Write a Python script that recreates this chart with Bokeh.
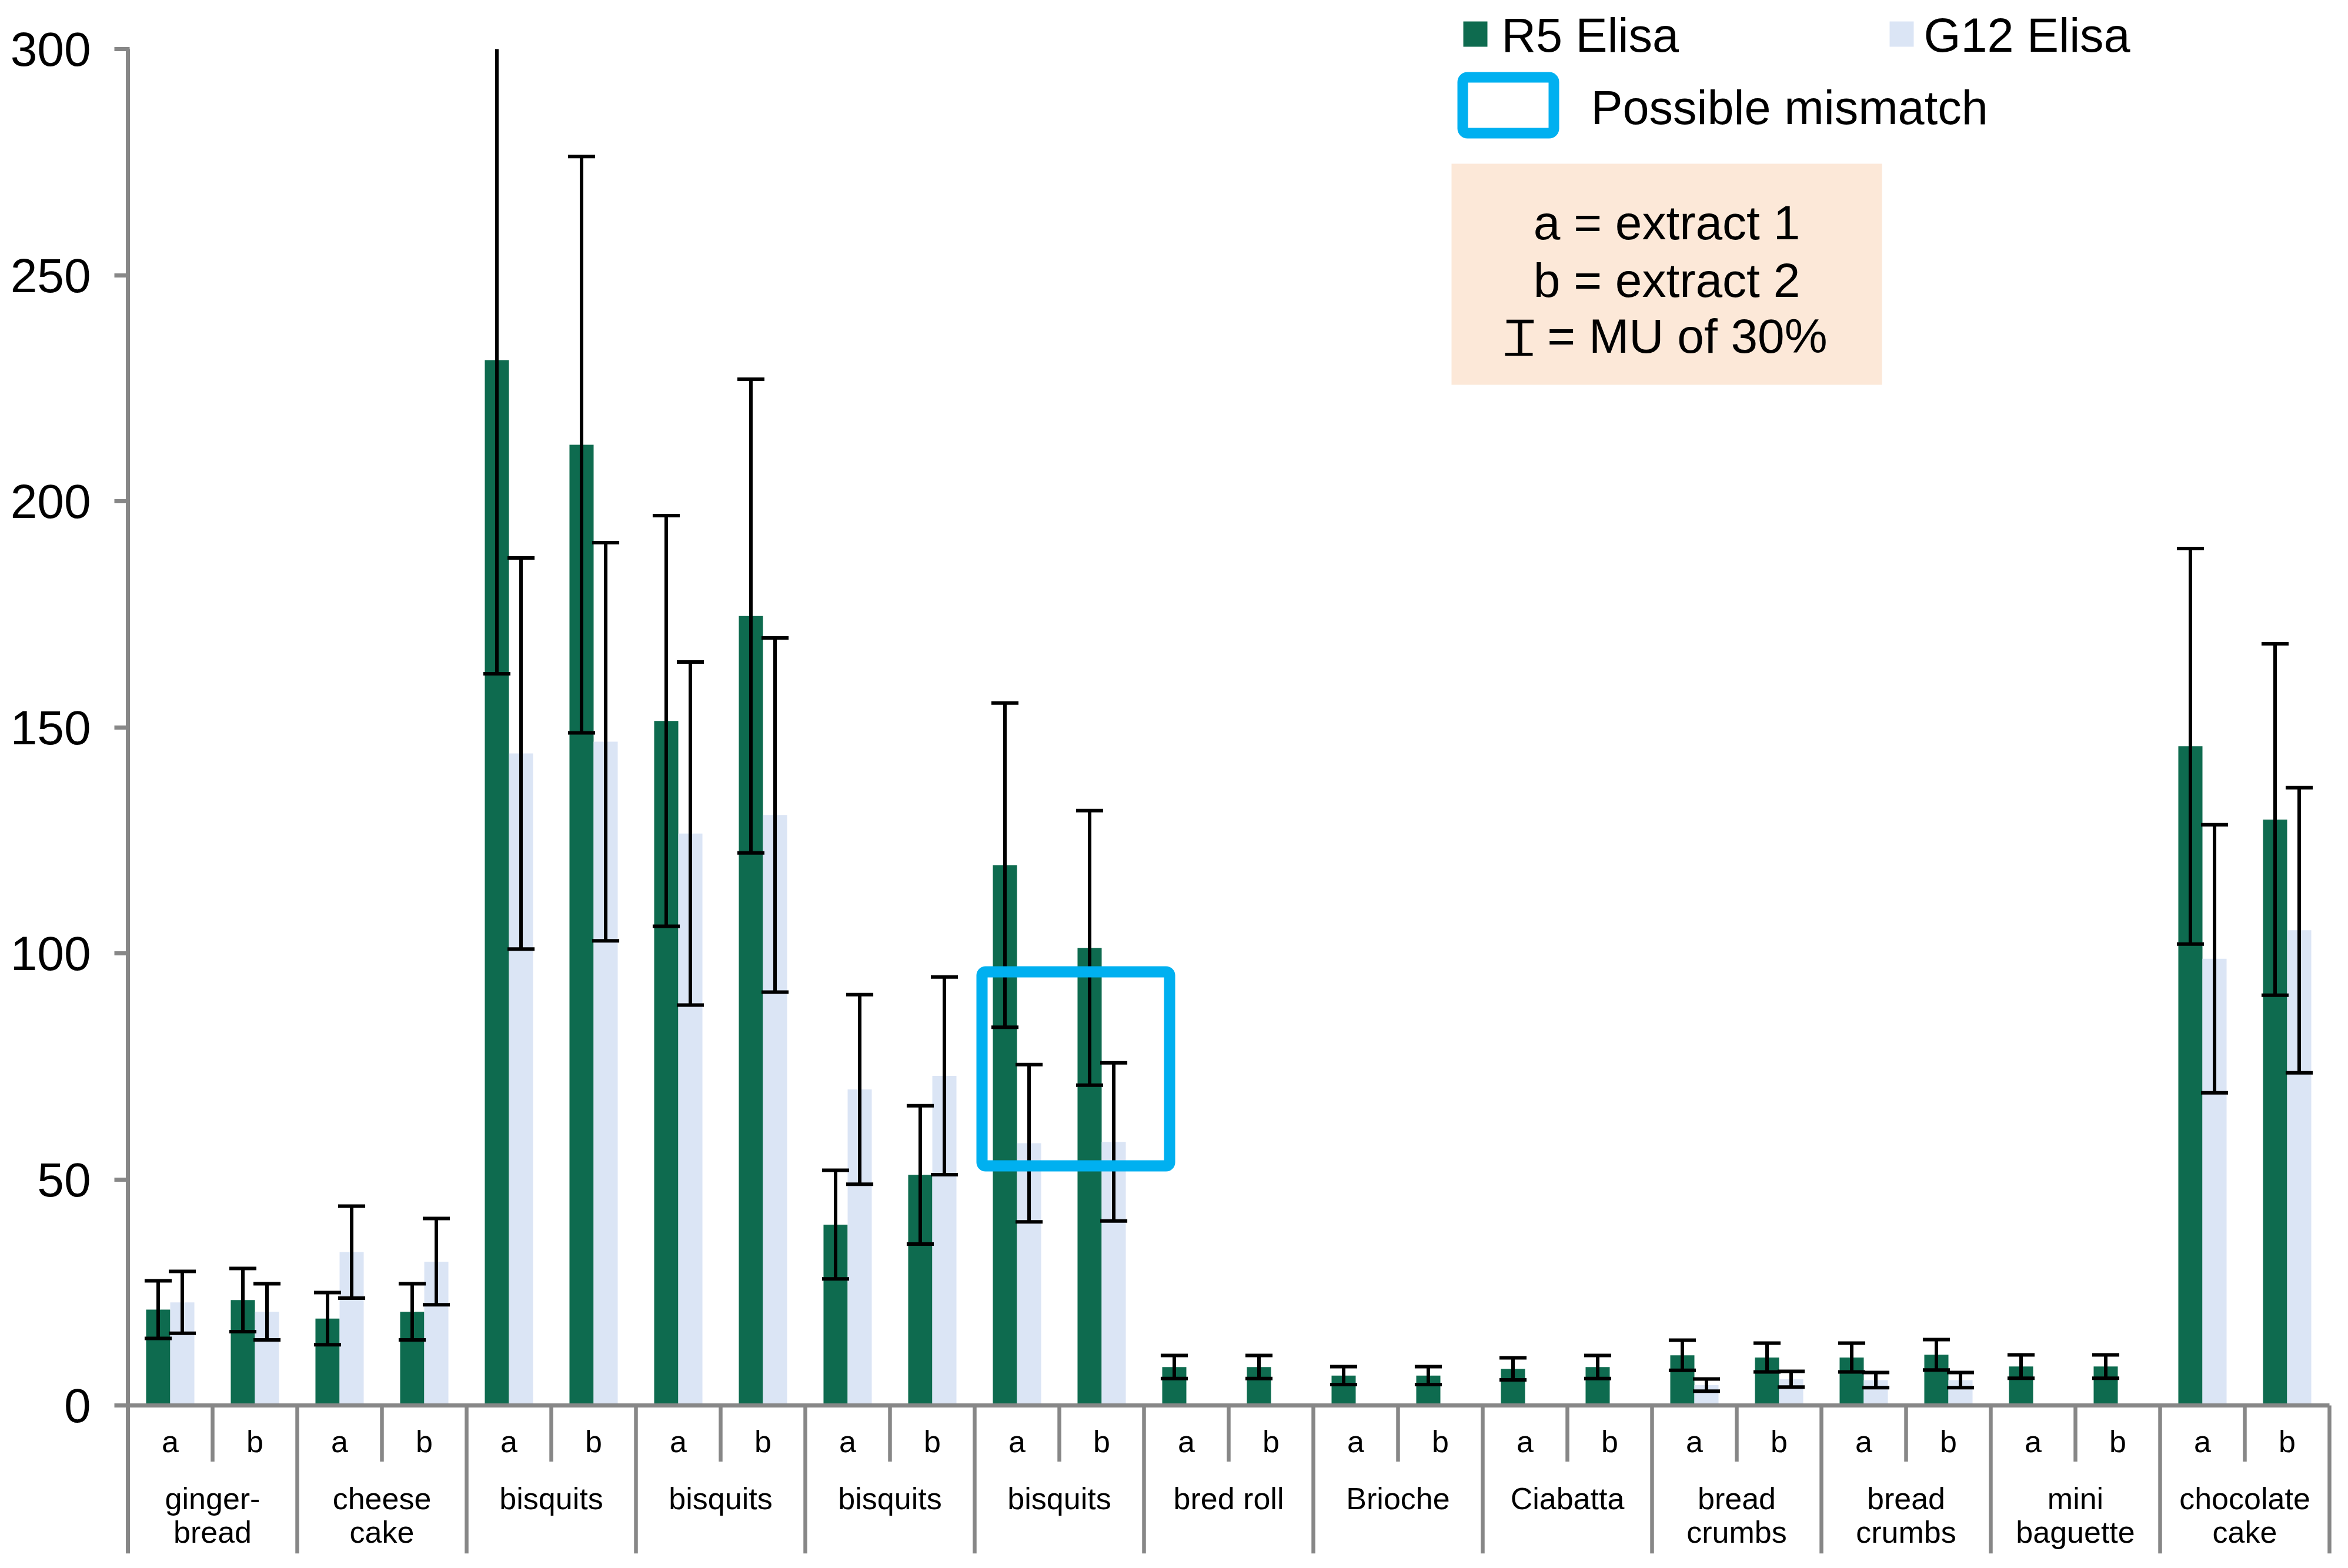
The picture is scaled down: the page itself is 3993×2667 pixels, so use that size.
import numpy as np
from bokeh.plotting import figure
from bokeh.models import Range1d, FixedTicker, BoxAnnotation
from bokeh.core.properties import value
from bokeh.embed import file_html
from bokeh.resources import INLINE

# ---------------- data ----------------
groups = ["ginger-\nbread", "cheese\ncake", "bisquits", "bisquits", "bisquits", "bisquits",
          "bred roll", "Brioche", "Ciabatta", "bread\ncrumbs", "bread\ncrumbs",
          "mini\nbaguette", "chocolate\ncake"]
extracts = ["a", "b"]
r5_elisa = [21.2, 23.3, 19.2, 20.7, 231.2, 212.5, 151.4, 174.6, 40.0, 51.0, 119.5, 101.2,
            8.5, 8.5, 6.6, 6.6, 8.1, 8.5, 11.1, 10.6, 10.6, 11.2, 8.6, 8.6, 145.8, 129.6]
g12_elisa = [22.8, 20.7, 33.9, 31.8, 144.2, 146.8, 126.5, 130.6, 69.9, 72.9, 58.0, 58.3,
             0, 0, 0, 0, 0, 0, 4.5, 5.8, 5.6, 5.6, 0, 0, 98.8, 105.1]
y_ticks = [0, 50, 100, 150, 200, 250, 300]
y_max = 300
mu = 0.30
series_names = ["R5 Elisa", "G12 Elisa"]
mismatch_label = "Possible mismatch"
note_lines = ["a = extract 1", "b = extract 2", "T = MU of 30%"]

# ---------------- style ----------------
FONT = "Liberation Sans"
GREEN = "#0E6B4F"
BLUE = "#DBE5F5"
CYAN = "#00B0F0"
GRAY = "#878787"
PEACH = "#FCE8D8"

W, H = 3977, 2651
# reference-pixel geometry helpers
X0_PX, CAT_PX, Y0_PX, UNIT_PX = 225.0, 144.0, 2394.0, 7.69
PAGE_X, PAGE_Y = 8, 4
def X(px):
    return (px - X0_PX) / CAT_PX
def Y(px):
    return (Y0_PX - px) / UNIT_PX
def TY(px, fs):
    # baseline position for a text of font size fs (renderer places it lower)
    return Y(px - 0.22 * fs - 4)

left_border = 203
top_border = 8 - PAGE_Y
frame_bottom_ref = 2646
bottom_border = H - (frame_bottom_ref - PAGE_Y)
x_start, x_end = X(PAGE_X + left_border), X(PAGE_X + W)
y_start, y_end = Y(frame_bottom_ref), Y(8)

p = figure(width=W, height=H, output_backend="svg", toolbar_location=None,
           x_range=Range1d(x_start, x_end), y_range=Range1d(y_start, y_end),
           x_axis_location=None, y_axis_location="left",
           min_border_left=left_border, min_border_right=0,
           min_border_top=top_border, min_border_bottom=bottom_border)
p.outline_line_color = None
p.grid.visible = False
p.background_fill_color = "white"
p.border_fill_color = "white"

yax = p.yaxis[0]
yax.ticker = FixedTicker(ticks=y_ticks)
yax.axis_line_color = None
yax.major_tick_line_color = GRAY
yax.major_tick_line_width = 7
yax.major_tick_out = 9
yax.major_tick_in = 17
yax.minor_tick_line_color = None
yax.major_label_standoff = 40
yax.major_label_text_font = FONT
yax.major_label_text_font_size = "82px"
yax.major_label_text_color = "black"

n = len(r5_elisa)
cx = np.arange(n) + 0.5
bw = 0.285

# note box background
p.quad(left=[X(2476)], right=[X(3208)], top=[Y(282)], bottom=[Y(658)],
       fill_color=PEACH, line_color=None)

# bars
p.vbar(x=cx - bw / 2, top=r5_elisa, bottom=0, width=bw, fill_color=GREEN, line_color=None)
p.vbar(x=cx + bw / 2, top=g12_elisa, bottom=0, width=bw, fill_color=BLUE, line_color=None)

# error bars (MU 30 %), clipped at the axis maximum like the original
cap = 0.16
vx, vy0, vy1, cx0, cx1, cy = [], [], [], [], [], []
for xs, vals in ((cx - bw / 2, r5_elisa), (cx + bw / 2, g12_elisa)):
    for x, v in zip(xs, vals):
        if v <= 0:
            continue
        lo, hi = v * (1 - mu), v * (1 + mu)
        vx.append(x); vy0.append(lo); vy1.append(min(hi, y_max))
        cx0.append(x - cap); cx1.append(x + cap); cy.append(lo)
        if hi <= y_max:
            cx0.append(x - cap); cx1.append(x + cap); cy.append(hi)
p.segment(x0=vx, y0=vy0, x1=vx, y1=vy1, line_color="black", line_width=6)
p.segment(x0=cx0, y0=cy, x1=cx1, y1=cy, line_color="black", line_width=6)

# axis lines
p.segment(x0=[0], y0=[y_start], x1=[0], y1=[y_max], line_color=GRAY, line_width=7)
p.segment(x0=[0], y0=[0], x1=[n], y1=[0], line_color=GRAY, line_width=7)

# category separators
ng = len(groups)
sub_x = [2 * k + 1 for k in range(ng)]
p.segment(x0=sub_x, y0=[0] * ng, x1=sub_x, y1=[Y(2489.5)] * ng, line_color=GRAY, line_width=6.5)
grp_x = [2 * k for k in range(1, ng + 1)]
p.segment(x0=grp_x, y0=[0] * ng, x1=grp_x, y1=[y_start] * ng, line_color=GRAY, line_width=6.5)

# category labels
XFS = 52
sub_labels = [extracts[i % 2] for i in range(n)]
p.text(x=cx, y=[TY(2471, XFS)] * n, text=sub_labels, text_font=value(FONT),
       text_font_size=value(f"{XFS}px"), text_align="center", text_baseline="alphabetic",
       text_color="black")
gx, gy, gt = [], [], []
for k, g in enumerate(groups):
    for j, line in enumerate(g.split("\n")):
        gx.append(2 * k + 1)
        gy.append(TY(2568 + 57 * j, XFS))
        gt.append(line)
p.text(x=gx, y=gy, text=gt, text_font=value(FONT), text_font_size=value(f"{XFS}px"),
       text_align="center", text_baseline="alphabetic", text_color="black")

# highlight of the possible mismatch
p.add_layout(BoxAnnotation(left=X(1677.5), right=X(1996.5), bottom=Y(1986.5), top=Y(1656.5),
                           fill_color=None, fill_alpha=0, line_color=CYAN, line_alpha=1.0,
                           line_width=19, border_radius=6))

# legend
LFS = 81
p.quad(left=[X(2496), X(3221)], right=[X(2537), X(3262)], top=[Y(40)] * 2, bottom=[Y(83)] * 2,
       fill_color=[GREEN, BLUE], line_color=None)
p.text(x=[X(2561), X(3279)], y=[TY(85, LFS)] * 2, text=series_names, text_font=value(FONT),
       text_font_size=value(f"{LFS}px"), text_align="left", text_baseline="alphabetic",
       text_color="black")
p.add_layout(BoxAnnotation(left=X(2495), right=X(2650), bottom=Y(230), top=Y(135),
                           fill_color="white", fill_alpha=1.0, line_color=CYAN, line_alpha=1.0,
                           line_width=18, border_radius=8))
p.text(x=[X(2713)], y=[TY(208, LFS)], text=[mismatch_label], text_font=value(FONT),
       text_font_size=value(f"{LFS}px"), text_align="left", text_baseline="alphabetic",
       text_color="black")

# note text
NFS = 82
p.text(x=[X(2842)] * 3, y=[TY(404, NFS), TY(502, NFS), TY(597, NFS)], text=note_lines,
       text_font=value(FONT), text_font_size=value(f"{NFS}px"), text_align="center",
       text_baseline="alphabetic", text_color="black")
p.segment(x0=[X(2567)], y0=[Y(606)], x1=[X(2614)], y1=[Y(606)], line_color="black", line_width=5)

open("out.html", "w").write(file_html(p, INLINE))
